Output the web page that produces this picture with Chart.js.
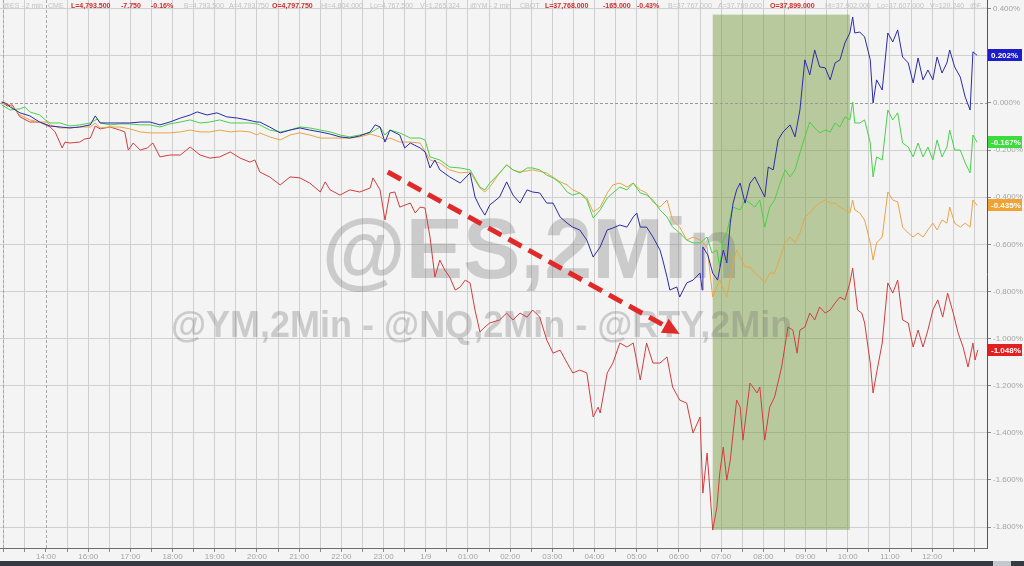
<!DOCTYPE html>
<html><head><meta charset="utf-8">
<script src="https://cdn.jsdelivr.net/npm/chart.js@4.4.1/dist/chart.umd.min.js"></script>
<style>
html,body{margin:0;padding:0;background:#f4f4f4;width:1024px;height:566px;overflow:hidden;}
#wrap{position:relative;width:1024px;height:566px;}
#c{position:absolute;left:0;top:0;}
#bar{position:absolute;left:0;top:561px;width:1024px;height:5px;background:#363b43;}
#bar2{position:absolute;left:993px;top:561px;width:18px;height:5px;background:#c5c9ce;}
#hdr span{position:absolute;top:1px;font:7px "Liberation Sans",Arial,sans-serif;color:#c2c2c2;white-space:nowrap;line-height:10px;}
#hdr span.r{color:#d22a2a;font-weight:bold;}
</style></head>
<body><div id="wrap"><canvas id="c" width="1024" height="561"></canvas><div id="bar"></div><div id="bar2"></div><div id="hdr"></div></div>
<script>
// ---- tick labels (hourly, compressed session axis; value = minutes from the 14:00 tick) ----
const timeLabels = ["14:00","16:00","17:00","18:00","19:00","20:00","21:00","22:00","23:00","1/9","01:00","02:00","03:00","04:00","05:00","06:00","07:00","08:00","09:00","10:00","11:00","12:00"];
const yTickValues = [0.4,0.2,0,-0.2,-0.4,-0.6,-0.8,-1.0,-1.2,-1.4,-1.6,-1.8];

// ---- @NQ (blue) ----
const nqTime = [-63,-58,-51,-37,-23,-9,6,20,34,48,
63,70,77,91,105,119,134,148,162,176,
191,205,215,229,243,257,272,286,300,304,
318,333,347,361,375,390,404,418,432,446,
461,468,475,482,489,503,510,518,532,539,
546,553,560,574,589,603,610,617,624,631,
645,655,664,674,684,692,702,712,721,731,
741,749,759,769,778,788,798,806,816,826,
835,840,845,854,863,873,877,883,887,897,
901,911,920,930,933,934,941,948,955,963,
968,973,977,982,987,994,1001,1008,1015,1022,
1027,1034,1041,1048,1058,1065,1072,1079,1086,1093,
1100,1108,1115,1122,1129,1136,1143,1147,1150,1157,
1164,1172,1176,1181,1189,1197,1204,1211,1218,1226,
1233,1240,1247,1254,1261,1267,1274,1281,1285,1292,
1300,1307,1314,1318,1324];
const nqPct = [0.004,0,-0.017,-0.042,-0.055,-0.081,-0.098,-0.102,-0.106,-0.102,
-0.093,-0.055,-0.085,-0.085,-0.085,-0.085,-0.081,-0.081,-0.093,-0.081,
-0.064,-0.051,-0.038,-0.051,-0.042,-0.059,-0.064,-0.072,-0.081,-0.081,
-0.102,-0.127,-0.115,-0.106,-0.115,-0.123,-0.132,-0.144,-0.149,-0.140,
-0.123,-0.093,-0.102,-0.166,-0.115,-0.136,-0.191,-0.170,-0.191,-0.208,
-0.276,-0.242,-0.284,-0.314,-0.340,-0.297,-0.399,-0.442,-0.476,-0.433,
-0.399,-0.335,-0.391,-0.425,-0.369,-0.378,-0.382,-0.425,-0.425,-0.484,
-0.510,-0.527,-0.539,-0.582,-0.654,-0.611,-0.539,-0.531,-0.518,-0.527,
-0.484,-0.467,-0.527,-0.527,-0.569,-0.624,-0.667,-0.739,-0.794,-0.781,
-0.824,-0.764,-0.752,-0.722,-0.794,-0.611,-0.645,-0.722,-0.752,-0.624,
-0.679,-0.510,-0.425,-0.369,-0.340,-0.425,-0.340,-0.314,-0.357,-0.399,
-0.272,-0.284,-0.157,-0.123,-0.093,-0.144,-0.030,0.183,0.119,0.225,
0.153,0.149,0.098,0.170,0.183,0.255,0.297,0.365,0.297,0.301,
0.280,0.183,0,0.098,0.055,0.297,0.259,0.310,0.195,0.170,
0.085,0.191,0.098,0.140,0.098,0.195,0.127,0.170,0.225,0.153,
0.110,0.025,-0.030,0.217,0.202];

// ---- @ES (green) ----
const esTime = [-63,-51,-37,-30,-23,-9,-1,6,20,34,
48,63,73,77,91,105,119,134,148,162,
176,191,205,219,233,247,262,276,290,300,
304,318,333,347,361,375,390,404,418,432,
446,461,475,482,489,503,518,532,539,546,
560,574,589,603,617,624,631,645,655,664,
674,684,692,702,712,721,731,741,749,759,
769,778,788,798,806,816,826,835,845,854,
863,873,883,891,901,911,920,930,940,947,
954,958,963,968,973,977,987,994,1001,1008,
1015,1022,1029,1036,1044,1051,1058,1065,1072,1079,
1086,1093,1100,1108,1115,1122,1129,1136,1143,1147,
1150,1157,1164,1172,1176,1181,1189,1197,1204,1211,
1218,1226,1233,1240,1247,1254,1261,1267,1274,1281,
1285,1292,1300,1307,1314,1318,1324];
const esPct = [-0.008,-0.030,-0.025,-0.017,-0.038,-0.051,-0.072,-0.085,-0.085,-0.098,
-0.093,-0.085,-0.068,-0.085,-0.093,-0.089,-0.089,-0.093,-0.093,-0.102,
-0.089,-0.081,-0.072,-0.085,-0.081,-0.072,-0.085,-0.085,-0.085,-0.089,
-0.093,-0.115,-0.123,-0.115,-0.102,-0.106,-0.115,-0.123,-0.136,-0.144,
-0.136,-0.127,-0.102,-0.136,-0.115,-0.127,-0.149,-0.149,-0.157,-0.229,
-0.242,-0.272,-0.276,-0.284,-0.357,-0.369,-0.340,-0.297,-0.263,-0.284,
-0.297,-0.276,-0.276,-0.284,-0.306,-0.318,-0.340,-0.378,-0.391,-0.382,
-0.412,-0.488,-0.454,-0.403,-0.382,-0.357,-0.369,-0.340,-0.382,-0.391,
-0.412,-0.454,-0.484,-0.527,-0.552,-0.582,-0.594,-0.594,-0.569,-0.637,
-0.624,-0.696,-0.582,-0.552,-0.484,-0.442,-0.454,-0.412,-0.425,-0.442,
-0.412,-0.527,-0.442,-0.412,-0.340,-0.284,-0.314,-0.284,-0.212,-0.144,
-0.081,-0.106,-0.127,-0.115,-0.123,-0.085,-0.102,-0.059,-0.072,0.004,
-0.085,-0.085,-0.072,-0.170,-0.314,-0.229,-0.242,-0.030,-0.072,-0.042,
-0.170,-0.187,-0.229,-0.170,-0.229,-0.187,-0.242,-0.157,-0.229,-0.187,
-0.115,-0.200,-0.200,-0.255,-0.297,-0.136,-0.167];

// ---- @YM (orange) ----
const ymTime = [-63,-51,-37,-23,-9,1,6,20,34,48,
63,70,77,91,105,119,134,148,162,176,
191,205,219,233,247,262,276,290,300,304,
318,333,347,361,375,390,404,418,432,446,
461,475,482,489,503,518,532,546,560,574,
589,603,617,624,631,645,655,664,674,692,
712,731,741,749,759,769,778,788,798,806,
816,826,835,845,854,863,873,883,891,901,
911,920,930,940,948,958,968,977,982,987,
994,1001,1008,1015,1022,1029,1036,1044,1051,1058,
1065,1072,1079,1086,1093,1100,1108,1115,1122,1129,
1136,1143,1147,1150,1157,1164,1172,1176,1181,1189,
1197,1204,1211,1218,1226,1233,1240,1247,1254,1261,
1267,1274,1281,1285,1292,1300,1307,1314,1318,1324];
const ymPct = [0,-0.008,-0.051,-0.072,-0.081,-0.081,-0.093,-0.106,-0.106,-0.102,
-0.102,-0.085,-0.106,-0.102,-0.102,-0.110,-0.123,-0.127,-0.127,-0.127,
-0.123,-0.115,-0.123,-0.123,-0.115,-0.123,-0.119,-0.123,-0.136,-0.127,
-0.144,-0.157,-0.136,-0.127,-0.136,-0.149,-0.149,-0.149,-0.149,-0.144,
-0.132,-0.144,-0.157,-0.149,-0.166,-0.166,-0.170,-0.242,-0.255,-0.284,
-0.297,-0.293,-0.361,-0.378,-0.357,-0.297,-0.263,-0.284,-0.293,-0.284,
-0.297,-0.335,-0.348,-0.369,-0.382,-0.403,-0.463,-0.442,-0.382,-0.348,
-0.340,-0.357,-0.340,-0.369,-0.382,-0.420,-0.442,-0.412,-0.497,-0.527,
-0.582,-0.569,-0.582,-0.611,-0.824,-0.752,-0.824,-0.679,-0.624,-0.654,
-0.696,-0.696,-0.722,-0.739,-0.764,-0.722,-0.722,-0.654,-0.594,-0.569,
-0.594,-0.552,-0.484,-0.467,-0.442,-0.425,-0.412,-0.425,-0.425,-0.442,
-0.454,-0.467,-0.412,-0.454,-0.467,-0.497,-0.594,-0.667,-0.594,-0.569,
-0.378,-0.412,-0.420,-0.527,-0.552,-0.569,-0.552,-0.569,-0.539,-0.510,
-0.539,-0.497,-0.510,-0.442,-0.510,-0.527,-0.510,-0.527,-0.412,-0.435];

// ---- @RTY (red) ----
const rtyTime = [-63,-55,-48,-37,-23,-9,6,13,20,23,
27,34,48,55,63,70,77,91,105,112,
117,124,134,144,152,162,176,191,205,219,
233,247,262,276,290,297,304,318,333,347,
361,375,390,397,404,418,432,446,461,465,
475,482,489,496,503,518,525,532,539,546,
553,560,567,574,582,589,596,603,610,617,
624,631,645,655,664,674,684,692,702,712,
721,731,741,749,759,769,778,785,788,798,
806,816,826,835,845,854,863,873,883,891,
901,911,920,930,934,940,944,948,954,958,
963,968,973,977,982,987,991,1001,1011,1015,
1022,1029,1036,1046,1055,1062,1068,1072,1079,1086,
1093,1100,1108,1115,1122,1129,1136,1143,1147,1154,
1160,1164,1172,1176,1181,1189,1197,1204,1211,1218,
1226,1233,1240,1247,1254,1261,1268,1275,1282,1290,
1297,1304,1311,1318,1321,1325];
const rtyPct = [0.004,-0.013,-0.008,-0.059,-0.081,-0.081,-0.102,-0.123,-0.170,-0.191,
-0.166,-0.170,-0.166,-0.153,-0.149,-0.098,-0.110,-0.102,-0.115,-0.123,
-0.200,-0.170,-0.200,-0.191,-0.170,-0.229,-0.221,-0.221,-0.187,-0.221,
-0.234,-0.229,-0.208,-0.234,-0.251,-0.242,-0.293,-0.314,-0.348,-0.314,
-0.318,-0.340,-0.378,-0.335,-0.369,-0.391,-0.369,-0.378,-0.361,-0.318,
-0.369,-0.497,-0.382,-0.378,-0.442,-0.425,-0.467,-0.442,-0.446,-0.569,
-0.739,-0.667,-0.709,-0.739,-0.794,-0.781,-0.752,-0.764,-0.879,-0.972,
-0.951,-0.934,-0.921,-0.892,-0.921,-0.892,-0.909,-0.879,-0.909,-1.006,
-1.062,-1.049,-1.104,-1.146,-1.134,-1.146,-1.333,-1.291,-1.316,-1.146,
-1.104,-1.019,-1.036,-1.019,-1.176,-1.019,-1.104,-1.104,-1.078,-1.206,
-1.261,-1.274,-1.401,-1.333,-1.656,-1.486,-1.643,-1.813,-1.715,-1.571,
-1.461,-1.601,-1.516,-1.401,-1.261,-1.291,-1.431,-1.189,-1.231,-1.206,
-1.431,-1.291,-1.248,-1.121,-0.951,-0.964,-1.062,-0.964,-0.951,-0.892,
-0.921,-0.866,-0.892,-0.879,-0.849,-0.824,-0.836,-0.764,-0.701,-0.879,
-0.892,-0.934,-1.104,-1.231,-1.146,-1.019,-0.764,-0.807,-0.752,-0.921,
-0.934,-1.036,-0.964,-1.036,-0.964,-0.879,-0.836,-0.909,-0.807,-0.892,
-0.977,-1.036,-1.121,-1.019,-1.091,-1.048];

// ---- annotations (data coordinates) ----
const highlightStart = 948, highlightEnd = 1143, highlightTop = 0.375, highlightBottom = -1.812;
const arrowFrom = [486, -0.293], arrowTo = [901, -0.981];
const sessionMarks = [-61, 0];
const xMin = -65.4, xMax = 1338, yMin = -1.889, yMax = 0.437;

const headerParts = [
 ["@ES - 2 min",3,0],["CME",48,0],["L=4,793.500",71,1],["-7.750",121,1],["-0.16%",151,1],
 ["B=4,793.500",184,0],["A=4,793.750",229,0],["O=4,797.750",272,1],["Hi=4,804.000",321,0],
 ["Lo=4,767.500",370,0],["V=1,265,324",420,0],["@YM - 2 min",470,0],["CBOT",520,0],
 ["L=37,768.000",545,1],["-165.000",603,1],["-0.43%",637,1],["B=37,767.000",668,0],
 ["A=37,769.000",718,0],["O=37,899.000",770,1],["Hi=37,902.000",825,0],["Lo=37,607.000",877,0],
 ["V=120,240",930,0],["@F...",970,0]
];
const hdr = document.getElementById('hdr');
headerParts.forEach(([t,x,r])=>{const s=document.createElement('span');s.textContent=t;s.style.left=x+'px';if(r)s.className='r';hdr.appendChild(s);});

const FONT = '"Liberation Sans", Arial, sans-serif';
const series = [
  {label:'@NQ', t:nqTime, v:nqPct, color:'#2b2ba6', badge:'#1c1cc9'},
  {label:'@ES', t:esTime, v:esPct, color:'#48d048', badge:'#3ddc3d'},
  {label:'@YM', t:ymTime, v:ymPct, color:'#e8a445', badge:'#f0a233'},
  {label:'@RTY', t:rtyTime, v:rtyPct, color:'#cf3d3d', badge:'#e41f1f'}
];

const xTicks = []; for (let m = -60; m <= 1320; m += 30) xTicks.push(m);

const overlay = {
  id:'overlay',
  beforeDatasetsDraw(chart){
    const {ctx, chartArea:a, scales:{x,y}} = chart;
    ctx.save();
    ctx.beginPath(); ctx.rect(a.left,a.top,a.right-a.left,a.bottom-a.top); ctx.clip();
    const bx1=x.getPixelForValue(highlightStart), bx2=x.getPixelForValue(highlightEnd);
    const by1=y.getPixelForValue(highlightTop), by2=y.getPixelForValue(highlightBottom);
    ctx.fillStyle='rgba(110,150,50,0.45)';
    ctx.fillRect(bx1,by1,bx2-bx1,by2-by1);
    ctx.strokeStyle='#9a9a9a'; ctx.lineWidth=1; ctx.setLineDash([3,2]);
    const y0=Math.round(y.getPixelForValue(0))+0.5;
    ctx.beginPath(); ctx.moveTo(a.left,y0); ctx.lineTo(a.right,y0); ctx.stroke();
    ctx.strokeStyle='#a8a8a8';
    sessionMarks.forEach(m=>{const px=Math.round(x.getPixelForValue(m))+0.5; ctx.beginPath(); ctx.moveTo(px,a.top); ctx.lineTo(px,a.bottom); ctx.stroke();});
    ctx.setLineDash([]);
    ctx.fillStyle='rgba(110,110,110,0.3)';
    ctx.textAlign='center'; ctx.textBaseline='alphabetic';
    ctx.font='bold 86px '+FONT;
    ctx.fillText('@ES,2Min', a.left+(a.right-a.left)*0.538, a.top+278);
    ctx.font='bold 36px '+FONT;
    ctx.fillText('@YM,2Min - @NQ,2Min - @RTY,2Min', a.left+(a.right-a.left)*0.488, a.top+337);
    ctx.restore();
  },
  afterDatasetsDraw(chart){
    const {ctx, scales:{x,y}} = chart;
    const x1=x.getPixelForValue(arrowFrom[0]), y1=y.getPixelForValue(arrowFrom[1]);
    const x2=x.getPixelForValue(arrowTo[0]), y2=y.getPixelForValue(arrowTo[1]);
    const ang=Math.atan2(y2-y1,x2-x1), hl=17, hw=8;
    const bx=x2-hl*Math.cos(ang), by=y2-hl*Math.sin(ang);
    ctx.save();
    ctx.strokeStyle='#e02a2a'; ctx.lineWidth=5; ctx.setLineDash([15,8]);
    ctx.beginPath(); ctx.moveTo(x1,y1); ctx.lineTo(bx,by); ctx.stroke();
    ctx.setLineDash([]); ctx.fillStyle='#e02a2a';
    ctx.beginPath(); ctx.moveTo(x2,y2);
    ctx.lineTo(bx+hw*Math.sin(ang), by-hw*Math.cos(ang));
    ctx.lineTo(bx-hw*Math.sin(ang), by+hw*Math.cos(ang));
    ctx.closePath(); ctx.fill();
    ctx.restore();
  },
  afterDraw(chart){
    const {ctx, chartArea:a, scales:{y}} = chart;
    ctx.save();
    series.forEach(s=>{
      const v=s.v[s.v.length-1];
      const py=Math.round(y.getPixelForValue(v));
      ctx.fillStyle=s.badge;
      ctx.fillRect(a.right+1, py-6, 34, 12);
      ctx.fillStyle='#ffffff'; ctx.font='bold 8px '+FONT;
      ctx.textAlign='left'; ctx.textBaseline='middle';
      ctx.fillText(v.toFixed(3)+'%', a.right+4, py+0.5);
    });
    ctx.restore();
  }
};

new Chart(document.getElementById('c'), {
  type:'line',
  data:{datasets: series.map((s,i)=>({
    label:s.label,
    data:s.t.map((t,j)=>({x:t,y:s.v[j]})),
    borderColor:s.color, borderWidth:1, pointRadius:0, tension:0, fill:false, order:i
  }))},
  options:{
    responsive:false, animation:false, devicePixelRatio:1,
    layout:{padding:0},
    plugins:{legend:{display:false}, tooltip:{enabled:false}},
    scales:{
      x:{type:'linear', min:xMin, max:xMax,
        afterBuildTicks(s){ s.ticks = xTicks.map(v=>({value:v})); },
        afterFit(s){ s.height=13; s.paddingLeft=0; s.paddingRight=0; },
        ticks:{autoSkip:false, maxRotation:0, minRotation:0, padding:0, color:'#a4a4a4', font:{size:8, family:FONT},
          callback(v){ if (v>=0 && v%60===0) { const i=v/60; return timeLabels[i]||''; } return ''; }},
        grid:{color(c){ return (c.tick && c.tick.value===0) ? 'rgba(0,0,0,0)' : '#cfcfcf'; }, tickLength:4, tickColor:'#8a8a8a'},
        border:{color:'#6c6c6c'}
      },
      y:{position:'right', min:yMin, max:yMax,
        afterBuildTicks(s){ s.ticks = yTickValues.map(v=>({value:v})); },
        afterFit(s){ s.width=37; s.paddingTop=0; s.paddingBottom=0; },
        ticks:{padding:2, color:'#a4a4a4', font:{size:8, family:FONT},
          callback(v){ return (Math.abs(v)<1e-9?0:v).toFixed(3)+'%'; }},
        grid:{color(c){ return (c.tick && Math.abs(c.tick.value)<1e-9) ? 'rgba(0,0,0,0)' : '#d0d0d0'; }, tickLength:4, tickColor:'#8a8a8a'},
        border:{color:'#555555'}
      }
    }
  },
  plugins:[overlay]
});
</script></body></html>
